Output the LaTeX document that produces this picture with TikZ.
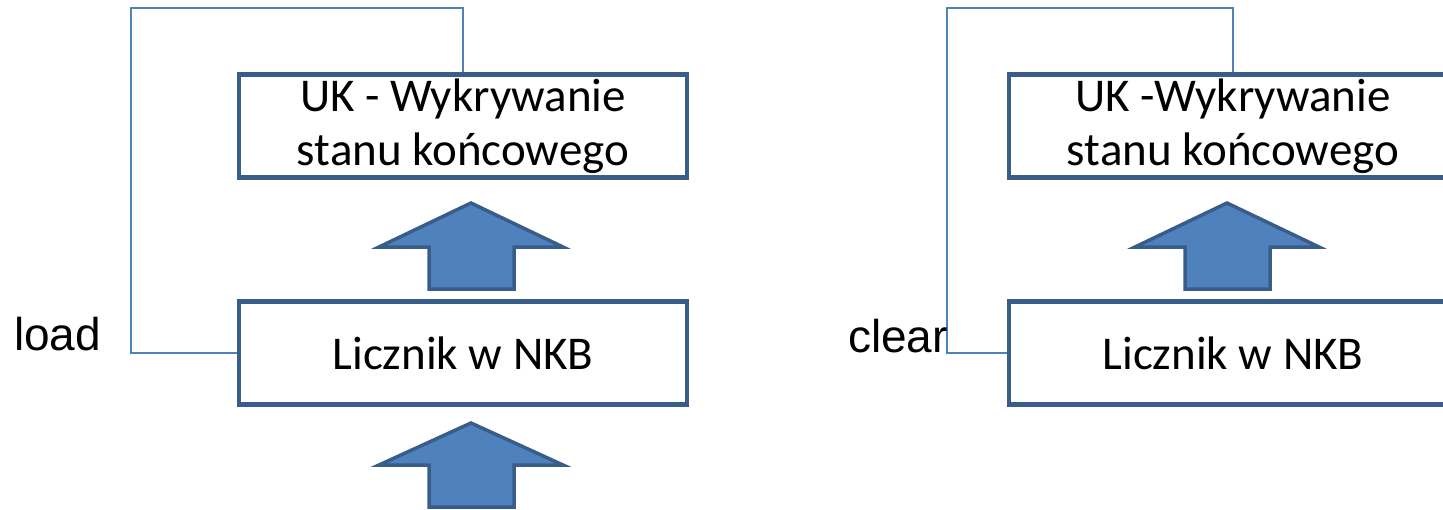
\documentclass[tikz,border=0pt]{standalone}
\usepackage{fontspec}
\setmainfont{Carlito}
\newfontfamily\arialfont{Liberation Sans}
\usepackage{tikz}
\usetikzlibrary{positioning}
\definecolor{boxline}{HTML}{385D8A}
\definecolor{arrowfill}{HTML}{4F81BD}
\tikzset{
	blok/.style={draw=boxline, line width=4.5pt, minimum width=448pt, minimum height=103pt, inner sep=0pt, align=center, font=\fontsize{47}{54}\selectfont},
	sygnal/.style={inner sep=0pt, font=\arialfont\fontsize{46}{46}\selectfont},
	petla/.style={draw=arrowfill, line width=1.5pt},
	strzalka/.style={draw=boxline, fill=arrowfill, line width=3.5pt, line join=miter}
}

\begin{document}
\begin{tikzpicture}[x=1pt,y=-1pt]
	\useasboundingbox (0,0) rectangle (1443,509);
	\clip (0,0) rectangle (1443,509);
	\node[blok] (uk1) at (463,126) {UK - Wykrywanie\\stanu końcowego};
	\node[blok] (licz1) at (463,353) {Licznik w NKB};
	\node[blok] (uk2) at (1233,126) {UK -Wykrywanie\\stanu końcowego};
	\node[blok] (licz2) at (1233,353) {Licznik w NKB};
	\draw[strzalka] (471,203) -- (563,247) -- (514,247) -- (514,289) -- (429,289) -- (429,247) -- (379,247) -- cycle;
	\draw[strzalka] (471,423) -- (563,465) -- (514,465) -- (514,507) -- (429,507) -- (429,465) -- (379,465) -- cycle;
	\draw[strzalka] (1227,203) -- (1319,247) -- (1270,247) -- (1270,289) -- (1185,289) -- (1185,247) -- (1135,247) -- cycle;
	\coordinate (c1) at (131,8);
	\coordinate (c2) at (947,8);
	\draw[petla] (uk1.north) |- (c1) |- (licz1.west);
	\draw[petla] (uk2.north) |- (c2) |- (licz2.west);
	\node[sygnal, anchor=base west] (load) at (14,350) {load};
	\node[sygnal, anchor=base east] (clear) at (948,352) {clear};
\end{tikzpicture}
\end{document}
